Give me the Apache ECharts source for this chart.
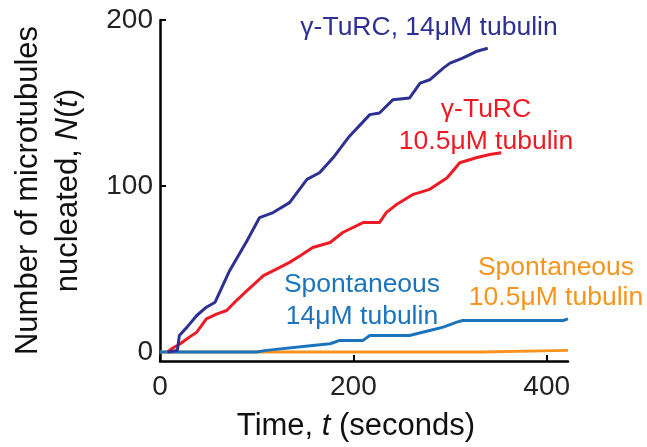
<!DOCTYPE html>
<html><head><meta charset="utf-8">
<script src="https://cdn.jsdelivr.net/npm/echarts@6/dist/echarts.min.js"></script>
<style>html,body{margin:0;padding:0;background:#fff}#c{width:647px;height:447px}</style>
</head><body><div id="c"></div>
<script>
var xTicks = [0, 200, 400];
var yTicks = [0, 100, 200];

var turc14T = [8, 18, 20, 28, 38, 48, 57, 72, 90, 103, 117, 134, 152, 165, 179, 196, 217, 227, 241, 258, 269, 279, 293, 300, 313, 327, 339];
var turc14N = [0, 1, 10, 15, 22, 27, 30, 49, 67, 81, 84, 90, 104, 108, 117, 130, 143, 144, 152, 153, 162, 164, 171, 174, 177, 181, 183];

var turc105T = [8, 12, 21, 28, 38, 48, 59, 69, 79, 90, 107, 124, 134, 145, 158, 176, 189, 210, 227, 234, 245, 262, 279, 297, 310, 327, 341, 353];
var turc105N = [0, 2, 5, 8, 12, 20, 23, 25, 31, 37, 46, 51, 54, 58, 63, 66, 72, 78, 78, 84, 89, 95, 98, 105, 114, 117, 119, 120];

var spont14T = [0, 100, 110, 158, 176, 186, 210, 217, 258, 279, 293, 307, 313, 417, 422];
var spont14N = [0, 0, 1, 4, 5, 7, 7, 10, 10, 13, 15, 18, 19, 19, 20];

var spont105T = [0, 332, 334, 422];
var spont105N = [0, 0, 1, 1];

function pairs(t, n) { return t.map(function (v, i) { return [v, n[i]]; }); }

var FONT = '"Liberation Sans", Arial, Helvetica, sans-serif';
var chart = echarts.init(document.getElementById('c'), null, {renderer: 'canvas'});

function lbl(text, x, y, color) {
  return {type: 'text', x: x, y: y, style: {text: text, fill: color, font: '26.5px ' + FONT, align: 'center', verticalAlign: 'middle'}};
}

chart.setOption({
  animation: false,
  backgroundColor: '#fff',
  grid: {left: 160, right: 79, top: 20, bottom: 86, containLabel: false, outerBoundsMode: 'none'},
  xAxis: {
    type: 'value', min: 0, max: 422,
    axisLine: {onZero: false, lineStyle: {color: '#000', width: 2.5}},
    axisTick: {inside: true, length: 6, customValues: xTicks, lineStyle: {color: '#000', width: 2}},
    axisLabel: {customValues: xTicks, margin: 12, color: '#222', fontSize: 28, fontFamily: FONT},
    splitLine: {show: false},
    name: '{a|Time, }{i|t}{a| (seconds)}', nameLocation: 'middle', nameGap: 50,
    nameTextStyle: {padding: [0, 16, 0, 0], rich: {a: {fontSize: 31, fontFamily: FONT, color: '#111'}, i: {fontSize: 31, fontFamily: FONT, fontStyle: 'italic', color: '#111'}}}
  },
  yAxis: {
    type: 'value', min: -5.4, max: 200,
    axisLine: {show: true, lineStyle: {color: '#000', width: 2.5}},
    axisTick: {show: true, inside: true, length: 6, customValues: yTicks, lineStyle: {color: '#000', width: 2}},
    axisLabel: {customValues: yTicks, margin: 7, color: '#222', fontSize: 28, fontFamily: FONT},
    splitLine: {show: false},
    name: '{a|Number of microtubules}\n{a|nucleated, }{i|N}{a|(}{i|t}{a|)}', nameLocation: 'middle', nameGap: 72, nameRotate: 90,
    nameTextStyle: {lineHeight: 40, rich: {a: {fontSize: 31, lineHeight: 40, fontFamily: FONT, color: '#111'}, i: {fontSize: 31, lineHeight: 40, fontFamily: FONT, fontStyle: 'italic', color: '#111'}}}
  },
  series: [
    {type: 'line', data: pairs(spont105T, spont105N), showSymbol: false, lineStyle: {color: '#f7941d', width: 3}, itemStyle: {color: '#f7941d'}},
    {type: 'line', data: pairs(spont14T, spont14N), showSymbol: false, lineStyle: {color: '#1c75bc', width: 3}, itemStyle: {color: '#1c75bc'}},
    {type: 'line', data: pairs(turc105T, turc105N), showSymbol: false, lineStyle: {color: '#ed1c24', width: 3}, itemStyle: {color: '#ed1c24'}},
    {type: 'line', data: pairs(turc14T, turc14N), showSymbol: false, lineStyle: {color: '#2e3192', width: 3}, itemStyle: {color: '#2e3192'}}
  ],
  graphic: [
    lbl('γ-TuRC, 14μM tubulin', 429, 28, '#2e3192'),
    lbl('γ-TuRC', 486, 110, '#ed1c24'),
    lbl('10.5μM tubulin', 486, 142, '#ed1c24'),
    lbl('Spontaneous', 362, 285, '#1c75bc'),
    lbl('14μM tubulin', 362, 317, '#1c75bc'),
    lbl('Spontaneous', 556, 268, '#f7941d'),
    lbl('10.5μM tubulin', 556, 298, '#f7941d')
  ]
});
</script></body></html>
